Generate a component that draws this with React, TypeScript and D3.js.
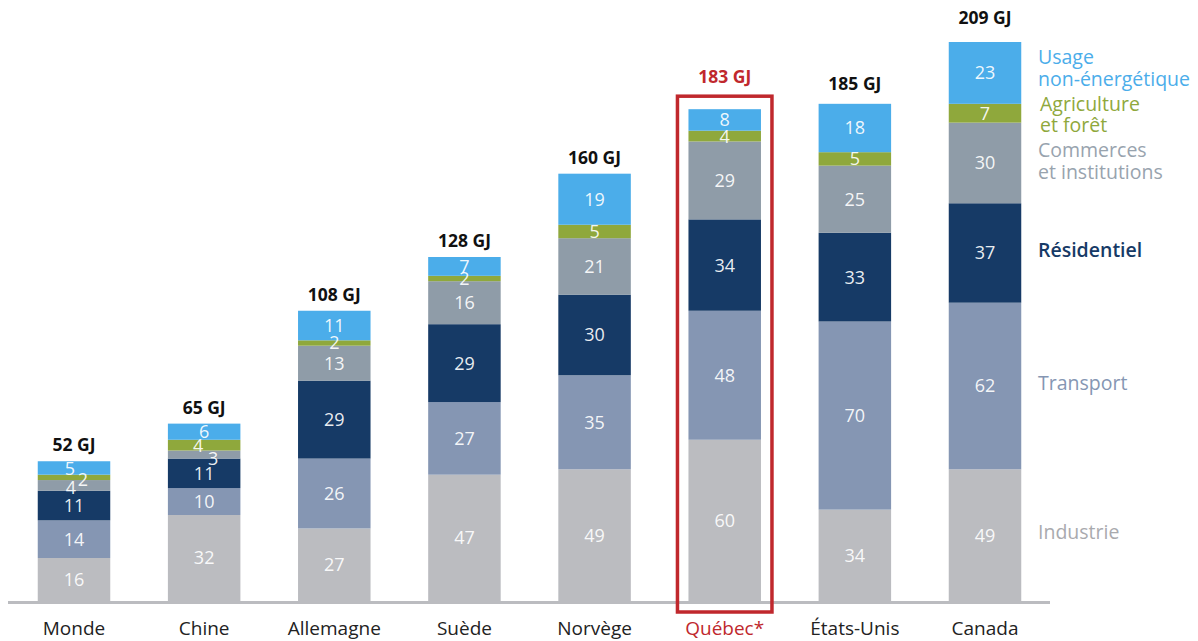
import React from "react";
import * as d3 from "d3";

const countries = ["Monde", "Chine", "Allemagne", "Suède", "Norvège", "Québec*", "États-Unis", "Canada"];
const totalLabels = ["52 GJ", "65 GJ", "108 GJ", "128 GJ", "160 GJ", "183 GJ", "185 GJ", "209 GJ"];

const industrie = [16, 32, 27, 47, 49, 60, 34, 49];
const transport = [14, 10, 26, 27, 35, 48, 70, 62];
const residentiel = [11, 11, 29, 29, 30, 34, 33, 37];
const commerces = [4, 3, 13, 16, 21, 29, 25, 30];
const agriculture = [2, 4, 2, 2, 5, 4, 5, 7];
const usage = [5, 6, 11, 7, 19, 8, 18, 23];

const seriesKeys = ["industrie", "transport", "residentiel", "commerces", "agriculture", "usage"];
const seriesValues = [industrie, transport, residentiel, commerces, agriculture, usage];
const seriesColors = ["#bbbcc0", "#8596b3", "#163a66", "#8f9ca8", "#8fa83c", "#4badea"];
const legendColors = ["#a9aaae", "#8596b3", "#163a66", "#98a3ae", "#8fa83c", "#4badea"];
const legendLines = [["Industrie"], ["Transport"], ["Résidentiel"], ["Commerces", "et institutions"], ["Agriculture", "et forêt"], ["Usage", "non-énergétique"]];

// label nudges for crowded small segments: [countryIndex, seriesIndex, dx, dy]
const labelNudges: [number, number, number, number][] = [
  [0, 3, -3, 2],
  [0, 4, 9, 2],
  [0, 5, -4, 1],
  [1, 3, 9, 4],
  [1, 4, -6, 0],
];
// extra lift of total labels above bar tops (px)
const totalLift = [10, 10, 10, 10, 10, 26, 14, 18];

const HIGHLIGHT = 5;
const RED = "#c0282d";
const FONT = "'Open Sans', 'Noto Sans', sans-serif";

export default function App() {
  const W = 1198, H = 641;
  const baseY = 601;
  const x = d3.scalePoint<string>().domain(countries).range([74, 985]);
  const bw = 72.5;
  const y = d3.scaleLinear().domain([0, 208]).range([baseY, 42]);

  const table = countries.map((c, i) => {
    const row: any = { country: c };
    seriesKeys.forEach((k, s) => (row[k] = seriesValues[s][i]));
    return row;
  });
  const stacked = d3.stack<any>().keys(seriesKeys)(table);
  const tops = countries.map((_, i) => stacked[stacked.length - 1][i][1]);

  const nudge = (ci: number, si: number) => {
    const n = labelNudges.find((v) => v[0] === ci && v[1] === si);
    return n ? [n[2], n[3]] : [0, 0];
  };

  const canadaIdx = countries.length - 1;
  const legendY: number[][] = [];
  for (let s = 0; s < 3; s++) {
    const seg = stacked[s][canadaIdx];
    legendY.push([(y(seg[0]) + y(seg[1])) / 2 - 3]);
  }
  const topY = y(tops[canadaIdx]);
  legendY.push([topY + 108, topY + 130]);
  legendY.push([topY + 62, topY + 83]);
  legendY.push([topY + 15, topY + 37]);
  const legendX = [1038, 1038, 1038, 1038, 1040, 1038];

  const hx = x(countries[HIGHLIGHT]) as number;
  const hTop = y(tops[HIGHLIGHT]);

  return (
    <svg width={W} height={H} style={{ position: "absolute", left: 0, top: 0, background: "#fff" }} fontFamily={FONT}>
      {stacked.map((layer, s) => (
        <g key={s}>
          {layer.map((d, i) => (
            <rect key={i} x={(x(countries[i]) as number) - bw / 2} y={y(d[1])} width={bw} height={y(d[0]) - y(d[1])} fill={seriesColors[s]} />
          ))}
        </g>
      ))}
      {stacked.map((layer, s) => (
        <g key={"l" + s}>
          {layer.map((d, i) => {
            const [dx, dy] = nudge(i, s);
            return (
              <text key={i} x={(x(countries[i]) as number) + dx} y={(y(d[0]) + y(d[1])) / 2 + dy} dy="0.36em" textAnchor="middle" fontSize={18} fill="#ffffff" fillOpacity={0.92}>
                {seriesValues[s][i]}
              </text>
            );
          })}
        </g>
      ))}
      {countries.map((c, i) => (
        <text key={"t" + c} x={x(c) as number} y={y(tops[i]) - totalLift[i]} textAnchor="middle" fontSize={17.5} fontWeight={700} fill={i === HIGHLIGHT ? RED : "#111"}>
          {totalLabels[i]}
        </text>
      ))}
      <line x1={8} x2={1050} y1={baseY + 1.5} y2={baseY + 1.5} stroke="#bbbcc0" strokeWidth={3} />
      {countries.map((c, i) => (
        <text key={"a" + c} x={x(c) as number} y={628} dy="0.36em" textAnchor="middle" fontSize={19} fill={i === HIGHLIGHT ? RED : "#222"}>
          {c}
        </text>
      ))}
      <rect x={hx - bw / 2 - 11} y={hTop - 13} width={bw + 22} height={baseY + 11 - (hTop - 13)} fill="none" stroke={RED} strokeWidth={3.5} />
      {legendLines.map((lines, s) =>
        lines.map((ln, j) => (
          <text key={"lg" + s + j} x={legendX[s]} y={legendY[s][j]} dy="0.36em" fontSize={19.5} fontWeight={s === 2 ? 600 : 400} fill={legendColors[s]}>
            {ln}
          </text>
        ))
      )}
    </svg>
  );
}
